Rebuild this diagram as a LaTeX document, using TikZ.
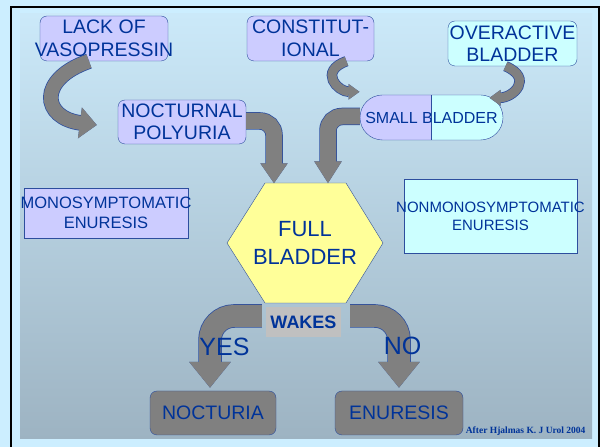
\documentclass[tikz,border=0pt]{standalone}
\usepackage{fontspec}
\setmainfont{Liberation Sans}
\newfontfamily\citefont{Liberation Serif}
\usetikzlibrary{arrows.meta,shapes.misc}
\usepackage{xcolor}
\definecolor{Lilac}{HTML}{CCCCFF}
\definecolor{PaleCyan}{HTML}{CCFFFF}
\definecolor{PaleYellow}{HTML}{FFFF99}
\definecolor{SlateGrey}{HTML}{808080}
\definecolor{LightGrey}{HTML}{C0C0C0}
\definecolor{InkBlue}{HTML}{003399}
\definecolor{EdgeBlue}{HTML}{2D4E9E}
\definecolor{SkyTop}{HTML}{CBE9F9}
\definecolor{SkyBottom}{HTML}{9DB3C2}
\definecolor{Rim}{HTML}{CCEEFF}

\begin{document}
\begin{tikzpicture}[x=1pt,y=1pt,
    box/.style={draw=EdgeBlue,rounded corners=7pt,align=center,text=InkBlue,
      font=\fontsize{19.5}{22.5}\selectfont,inner xsep=-8pt,inner ysep=2pt,
      minimum height=45pt},
    fatarrow/.style={draw=SlateGrey,line width=#1,
      preaction={draw=EdgeBlue,line width=#1+1.5pt}},
    big/.style={text=InkBlue,font=\fontsize{25}{28}\selectfont}]
  \useasboundingbox (0,0) rectangle (600,447);
  % slide background
  \fill[Rim] (0,0) rectangle (600,447);
  \shade[top color=SkyTop,bottom color=SkyBottom] (20,8) rectangle (592,433);
  \draw[black,line width=2pt] (11,0) -- (11,440) -- (599,440) -- (599,0);

  % causes
  \node[box,fill=Lilac,minimum width=128pt] (lack) at (104,408.5)
    {LACK OF\\VASOPRESSIN};
  \node[box,fill=Lilac,minimum width=127pt] (const) at (310.5,408.5)
    {CONSTITUT-\\IONAL};
  \node[box,fill=PaleCyan,minimum width=129pt] (overact) at (512.5,403.5)
    {OVERACTIVE\\BLADDER};
  \node[box,fill=Lilac,minimum width=128pt,minimum height=44pt] (noct)
    at (182,325) {NOCTURNAL\\POLYURIA};
  \node[rounded rectangle,draw=EdgeBlue,fill=Lilac,text=InkBlue,
        font=\fontsize{16}{19}\selectfont,inner xsep=0pt,
        minimum width=143pt,minimum height=45pt,
        path picture={\fill[PaleCyan] (path picture bounding box.north)
          rectangle (path picture bounding box.south east);
          \draw[EdgeBlue] (path picture bounding box.north)
          -- (path picture bounding box.south);}]
    (small) at (431.5,329.5) {SMALL BLADDER};

  % enuresis types
  \node[box,rounded corners=0pt,fill=Lilac,minimum width=164pt,
        minimum height=50pt,font=\fontsize{16.5}{20}\selectfont]
    (mono) at (106,234) {MONOSYMPTOMATIC\\ENURESIS};
  \node[box,rounded corners=0pt,fill=PaleCyan,minimum width=173pt,
        minimum height=74pt,font=\fontsize{15}{18}\selectfont]
    (nonmono) at (490.5,231) {NONMONOSYMPTOMATIC\\ENURESIS};

  % full bladder
  \draw[EdgeBlue,fill=PaleYellow] (227,204) -- ++(38,60) -- ++(81,0)
    -- ++(37,-60) -- ++(-37,-60) -- ++(-81,0) -- cycle;
  \node[text=InkBlue,align=center,font=\fontsize{22}{28}\selectfont,
        minimum width=156pt,minimum height=119pt] (full) at (305,204)
    {FULL\\BLADDER};
  \node[fill=LightGrey,text=InkBlue,font=\fontsize{18}{20}\selectfont\bfseries,
        minimum width=75pt,minimum height=30pt,inner sep=0pt]
    (wakes) at (303.5,125) {WAKES};

  % outcomes
  \node[box,fill=SlateGrey,minimum width=126pt,minimum height=44pt]
    (nocturia) at (213,34) {NOCTURIA};
  \node[box,fill=SlateGrey,minimum width=128pt,minimum height=44pt]
    (enuresis) at (399,34) {ENURESIS};

  % block arrows
  \draw[fatarrow=14pt,-{Triangle[width=30pt,length=17pt]}]
    ([xshift=-15pt]lack.south) .. controls +(-52,-18) and +(-55,7)
    .. ([xshift=-21pt,yshift=-3pt]noct.west);
  \draw[fatarrow=16pt,rounded corners=14pt,-{Triangle[width=26pt,length=20pt]}]
    ([yshift=1pt]noct.east) -| ([xshift=-31pt]full.north);
  \draw[fatarrow=16pt,rounded corners=14pt,-{Triangle[width=26pt,length=22pt]}]
    ([yshift=1pt]small.west) -| ([xshift=23pt]full.north);
  \draw[fatarrow=9pt,-{Triangle[width=15pt,length=11pt]}]
    ([xshift=36pt]const.south) .. controls +(-28,-10) and +(-22,0)
    .. ([xshift=-72pt,yshift=3pt]small.north);
  \draw[fatarrow=9pt,-{Triangle[width=15pt,length=11pt]}]
    ([xshift=-7pt]overact.south) .. controls +(28,-12) and +(24,0)
    .. ([xshift=58pt,yshift=-3pt]small.north);
  \draw[fatarrow=22pt,rounded corners=24pt,-{Triangle[width=40pt,length=26pt]}]
    ([shift={(-4pt,6pt)}]wakes.west) -| ([xshift=-3pt,yshift=3pt]nocturia.north);
  \draw[fatarrow=22pt,rounded corners=24pt,-{Triangle[width=40pt,length=26pt]}]
    ([shift={(9pt,6pt)}]wakes.east) -| ([yshift=3pt]enuresis.north);
  \node[big] (yes) at (224.5,100) {YES};
  \node[big] (no) at (402.5,101.5) {NO};

  \node[anchor=base east,text=InkBlue,font=\citefont\fontsize{9.5}{11}\selectfont\bfseries]
    (cite) at (589,13) {After Hjalmas K. J Urol 2004};
\end{tikzpicture}
\end{document}
